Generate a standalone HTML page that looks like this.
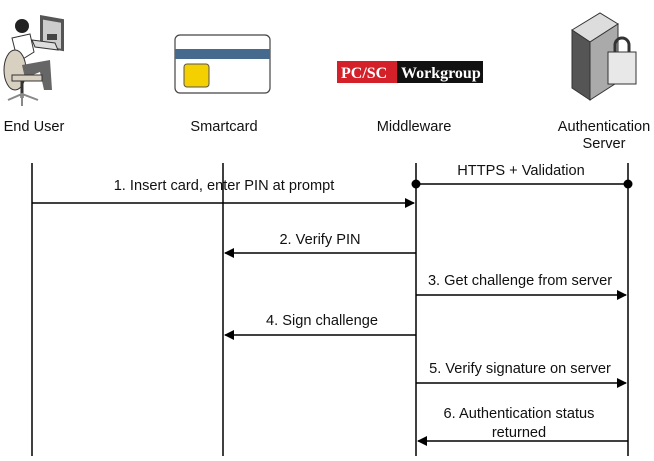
<!DOCTYPE html>
<html><head><style>
body{margin:0;width:654px;height:456px;background:#fff;overflow:hidden}
svg text{font-family:"Liberation Sans",sans-serif;font-size:14.6px;fill:#111}
</style></head><body>
<svg width="654" height="456" xmlns="http://www.w3.org/2000/svg">
<defs><marker id="a" markerWidth="10" markerHeight="10" refX="9" refY="5" orient="auto" markerUnits="userSpaceOnUse"><path d="M0,0 L10,5 L0,10 z" fill="#000"/></marker></defs>
<!-- user icon -->
<g>
<rect x="40" y="8" width="24" height="32" fill="#555" transform="skewY(10)"/>
<rect x="43" y="12" width="18" height="26" fill="#ccc" transform="skewY(10)"/>
<rect x="47" y="34" width="10" height="6" fill="#444"/>
<polygon points="32,40 55,43 58,50 35,47" fill="#ddd" stroke="#333" stroke-width="1"/>
<circle cx="22" cy="26" r="7" fill="#222"/>
<path d="M12,38 L30,34 L34,52 L18,62 Z" fill="#fff" stroke="#333"/>
<ellipse cx="15" cy="70" rx="11" ry="20" fill="#d8d0c0" stroke="#333"/>
<path d="M22,65 L50,60 L52,90 L44,90 L40,72 L25,78Z" fill="#666"/>
<rect x="12" y="75" width="30" height="6" fill="#d8d0c0" stroke="#333"/>
<line x1="22" y1="81" x2="22" y2="98" stroke="#333" stroke-width="3"/>
<path d="M8,100 L22,94 L38,100 M22,94 L22,106" stroke="#888" stroke-width="2" fill="none"/>
</g>
<!-- card -->
<rect x="175" y="35" width="95" height="58" rx="5" fill="#fff" stroke="#444" stroke-width="1.2"/>
<rect x="175" y="49" width="95" height="10" fill="#456a8e"/>
<rect x="184" y="64" width="25" height="23" rx="3" fill="#f5d000" stroke="#555"/>
<!-- pcsc -->
<rect x="337" y="61" width="60" height="22" fill="#d42028"/>
<rect x="397" y="61" width="86" height="22" fill="#111"/>
<text x="341" y="78" style="font-family:'Liberation Serif',serif;font-weight:bold;font-size:16px;fill:#fff">PC/SC</text>
<text x="401" y="78" style="font-family:'Liberation Serif',serif;font-weight:bold;font-size:16px;fill:#fff">Workgroup</text>
<!-- server -->
<polygon points="572,30 600,13 618,24 590,42" fill="#ddd" stroke="#333"/>
<polygon points="572,30 590,42 590,100 572,88" fill="#555" stroke="#333"/>
<polygon points="590,42 618,24 618,82 590,100" fill="#aaa" stroke="#333"/>
<path d="M615,55 v-10 a7,7 0 0 1 14,0 v10" fill="none" stroke="#333" stroke-width="3"/>
<rect x="608" y="52" width="28" height="32" fill="#e8e8e8" stroke="#333"/>
<!-- labels -->
<g text-anchor="middle">
<text x="34" y="131">End User</text>
<text x="224" y="131">Smartcard</text>
<text x="414" y="131">Middleware</text>
<text x="604" y="131">Authentication</text>
<text x="604" y="148">Server</text>
</g>
<!-- lifelines -->
<g stroke="#000" stroke-width="1.5">
<line x1="32" y1="163" x2="32" y2="456"/>
<line x1="223" y1="163" x2="223" y2="456"/>
<line x1="416" y1="163" x2="416" y2="456"/>
<line x1="628" y1="163" x2="628" y2="456"/>
<line x1="416" y1="184" x2="628" y2="184"/>
<line x1="32" y1="203" x2="414" y2="203" marker-end="url(#a)"/>
<line x1="416" y1="253" x2="225" y2="253" marker-end="url(#a)"/>
<line x1="416" y1="295" x2="626" y2="295" marker-end="url(#a)"/>
<line x1="416" y1="335" x2="225" y2="335" marker-end="url(#a)"/>
<line x1="416" y1="383" x2="626" y2="383" marker-end="url(#a)"/>
<line x1="628" y1="441" x2="418" y2="441" marker-end="url(#a)"/>
</g>
<circle cx="416" cy="184" r="4.5" fill="#000"/>
<circle cx="628" cy="184" r="4.5" fill="#000"/>
<g text-anchor="middle">
<text x="521" y="175">HTTPS + Validation</text>
<text x="224" y="190">1. Insert card, enter PIN at prompt</text>
<text x="320" y="244">2. Verify PIN</text>
<text x="520" y="285">3. Get challenge from server</text>
<text x="322" y="325">4. Sign challenge</text>
<text x="520" y="373">5. Verify signature on server</text>
<text x="519" y="418">6. Authentication status</text>
<text x="519" y="437">returned</text>
</g>
</svg>
</body></html>
